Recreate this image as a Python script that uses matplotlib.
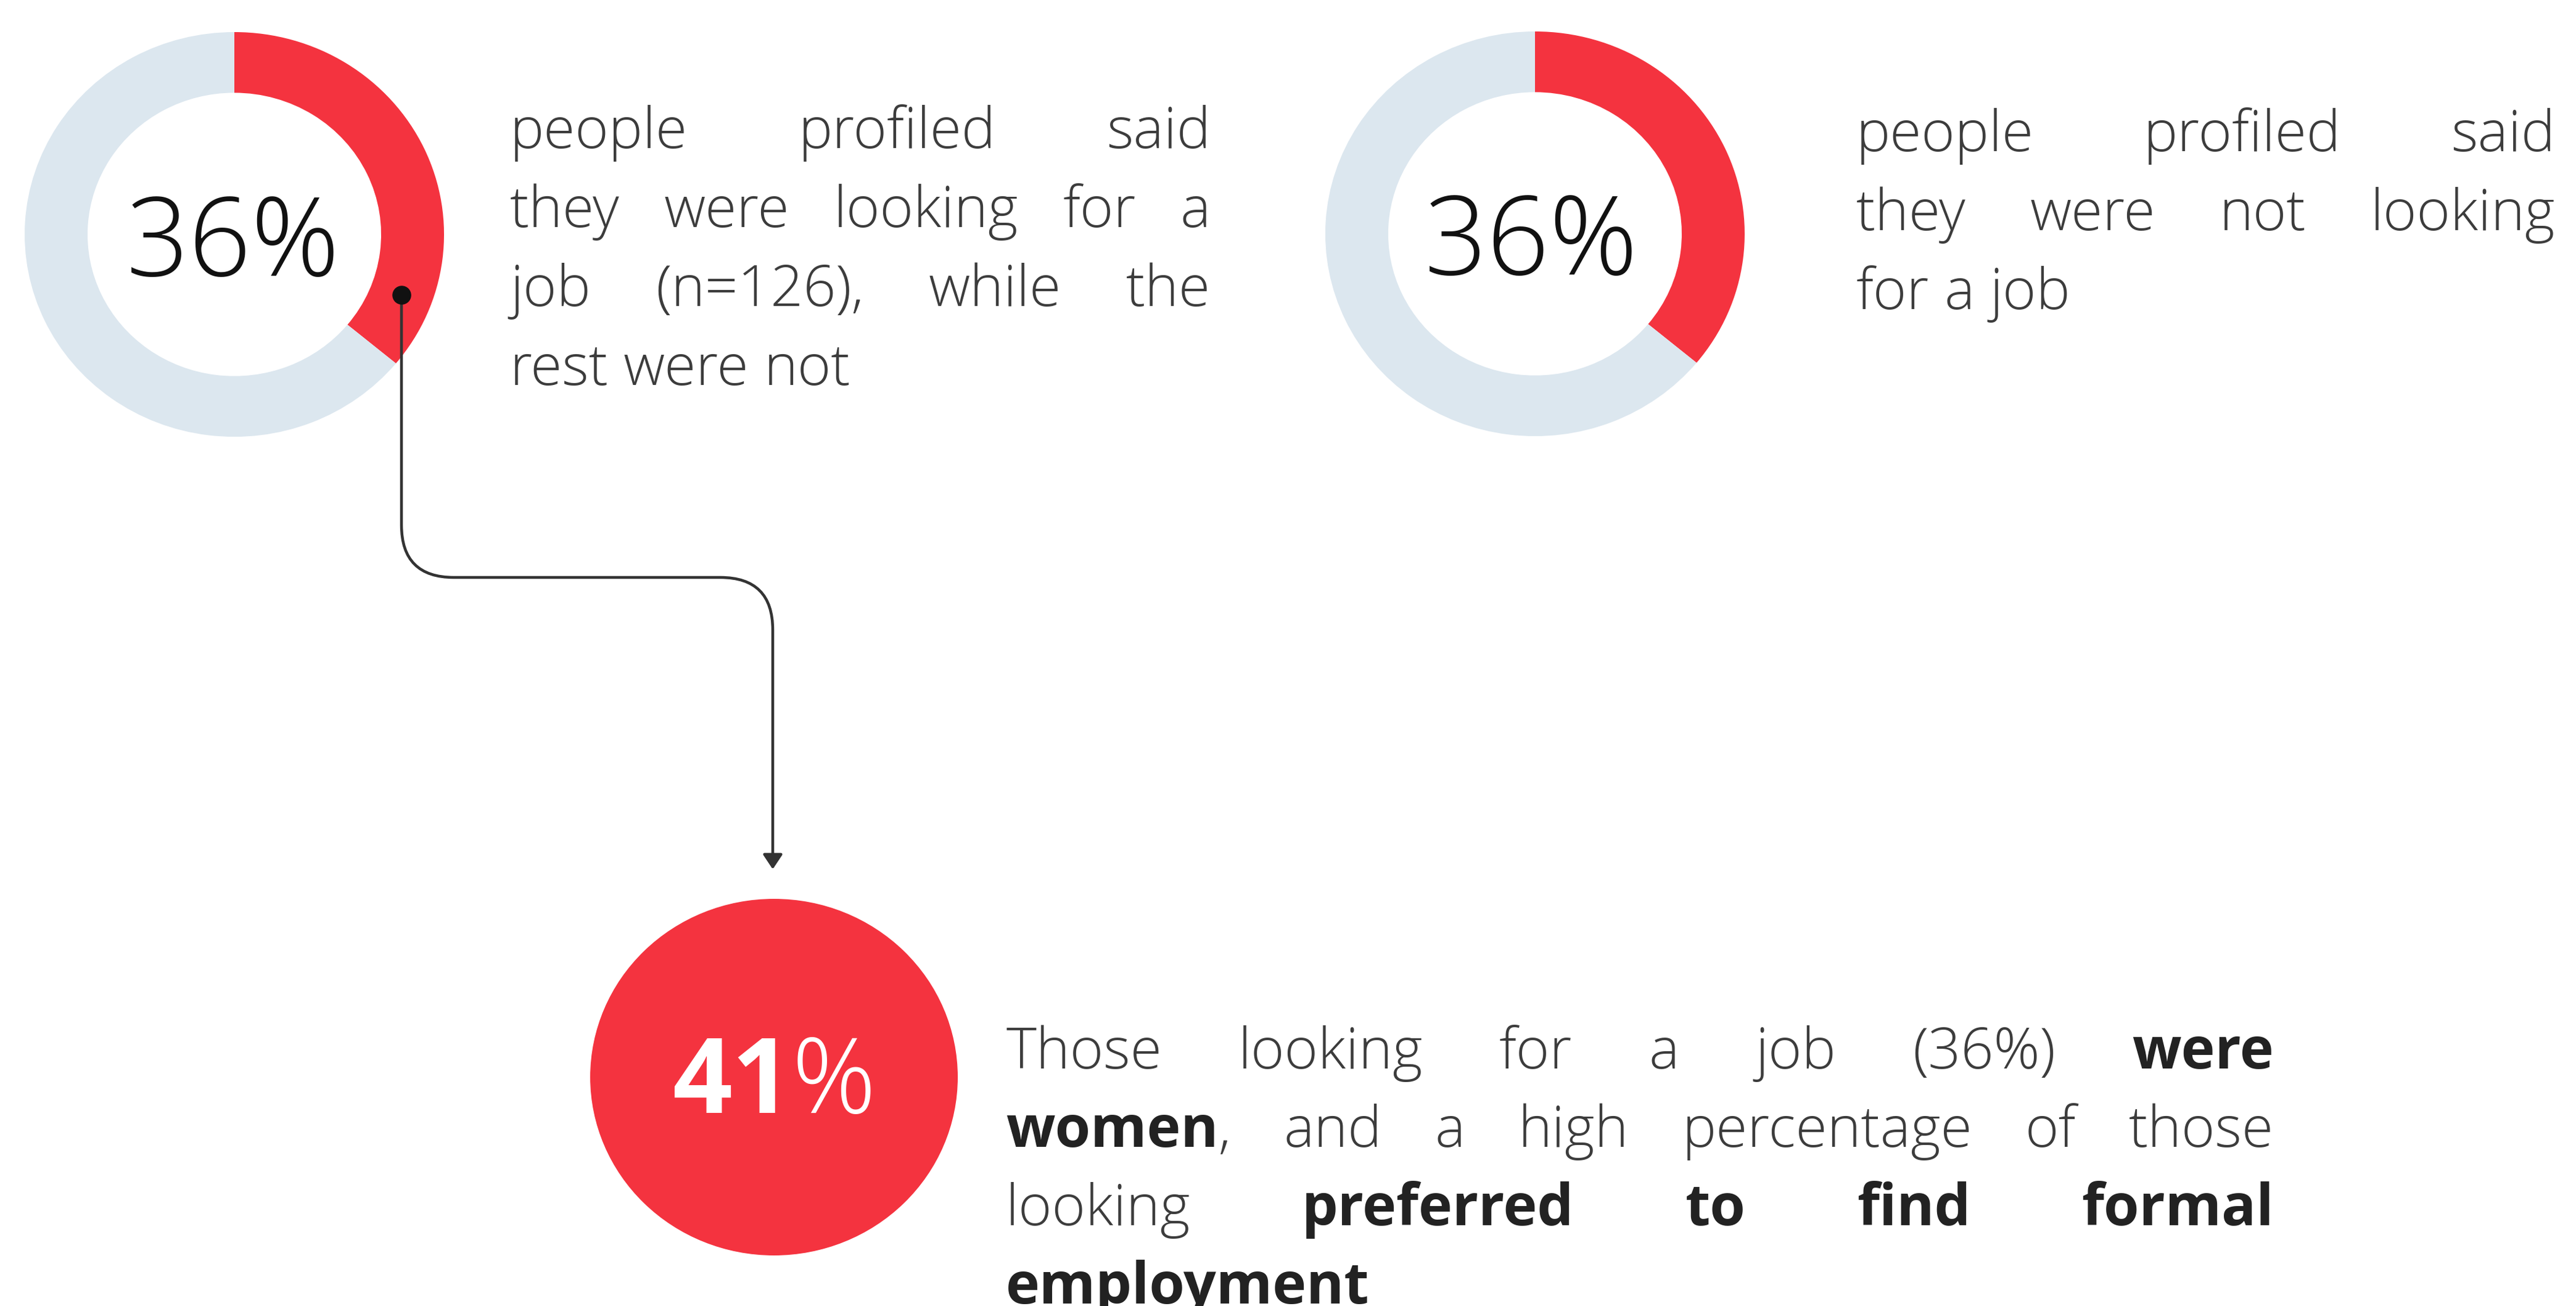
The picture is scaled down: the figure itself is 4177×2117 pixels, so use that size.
import re
import matplotlib
matplotlib.use('Agg')
import matplotlib.pyplot as plt
from matplotlib.path import Path
from matplotlib.patches import FancyArrowPatch, Ellipse

# share of people profiled (percent)
looking_pct = 36
not_looking_pct = 36
women_pct = 41

# captions, **word** is set in bold
looking_text = ["people profiled said",
                "they were looking for a",
                "job (n=126), while the",
                "rest were not"]
not_looking_text = ["people profiled said",
                    "they were not looking",
                    "for a job"]
women_text = ["Those looking for a job (36%) **were**",
              "**women**, and a high percentage of those",
              "looking **preferred** **to** **find** **formal**",
              "**employment**"]

W, H = 4177, 2117
RED = '#f4333f'
PALE = '#dce7ef'
FONT = 'Open Sans'
BODY = 67

fig = plt.figure(figsize=(W / 100, H / 100), dpi=100)
fig.patch.set_facecolor('white')


def donut(cx, cy, pct):
    rx, ry = 340, 328
    a = fig.add_axes([(cx - rx) / W, 1 - (cy + ry) / H, 2 * rx / W, 2 * ry / H])
    a.pie([pct, 100 - pct], colors=[RED, PALE], startangle=90, counterclock=False,
          radius=1, wedgeprops=dict(width=0.30, linewidth=0))
    a.set_xlim(-1, 1)
    a.set_ylim(-1, 1)
    a.set_aspect('auto')
    a.axis('off')
    return a


donut(380, 380, looking_pct)
donut(2489, 379, not_looking_pct)

# overlay in pixel units, y pointing down
ax = fig.add_axes([0, 0, 1, 1])
ax.set_xlim(0, W)
ax.set_ylim(H, 0)
ax.axis('off')
ax.patch.set_alpha(0)

renderer = fig.canvas.get_renderer()


def width_of(t):
    return t.get_window_extent(renderer).width


def word(y, s, size):
    # a word may mix bold and regular parts, e.g. "**women**,"
    parts = [p for p in re.split(r'(\*\*[^*]+\*\*)', s) if p]
    out = []
    for p in parts:
        bold = p.startswith('**')
        t = ax.text(0, y, p.strip('*'), fontsize=size, family=FONT,
                    weight='bold' if bold else 'light',
                    color='#222222' if bold else '#3c3c3c',
                    ha='left', va='baseline')
        out.append((t, width_of(t)))
    return out


def text_block(lines, x0, x1, y0, dy, size):
    sp = ax.text(0, 0, 'n n', fontsize=size, family=FONT, weight='light')
    nn = ax.text(0, 0, 'nn', fontsize=size, family=FONT, weight='light')
    space = width_of(sp) - width_of(nn)
    sp.remove()
    nn.remove()
    for i, line in enumerate(lines):
        y = y0 + i * dy
        words = [word(y, w, size) for w in line.split(' ')]
        widths = [sum(w for _, w in parts) for parts in words]
        if i < len(lines) - 1 and len(words) > 1:
            gap = (x1 - x0 - sum(widths)) / (len(words) - 1)
        else:
            gap = space
        x = x0
        for parts, w in zip(words, widths):
            px = x
            for t, pw in parts:
                t.set_x(px)
                px += pw
            x += w + gap


text_block(looking_text, 827, 1963, 240, 128, BODY)
text_block(not_looking_text, 3010, 4143, 245, 128, BODY)
text_block(women_text, 1631, 3687, 1732, 127, BODY)

# percentages inside the donuts
ax.text(378, 447, f'{looking_pct}%', fontsize=128, family=FONT, weight='light',
        color='#111111', ha='center', va='baseline')
ax.text(2483, 445, f'{not_looking_pct}%', fontsize=128, family=FONT, weight='light',
        color='#111111', ha='center', va='baseline')

# solid circle for the women share
ax.add_patch(Ellipse((1255, 1746), 596, 578, color=RED, lw=0))
num = ax.text(0, 1804, str(women_pct), fontsize=122, family=FONT, weight='bold',
              color='white', ha='left', va='baseline')
pc = ax.text(0, 1804, '%', fontsize=122, family=FONT, weight='light',
             color='white', ha='left', va='baseline')
wn, wp = width_of(num), width_of(pc)
num.set_x(1255 - (wn + wp) / 2)
pc.set_x(1255 - (wn + wp) / 2 + wn)

# connector from the first donut down to the circle
xa, xb, yh, r = 651, 1253, 936, 85
verts = [(xa, 478), (xa, yh - r), (xa, yh), (xa + r, yh), (xb - r, yh),
         (xb, yh), (xb, yh + r), (xb, 1409)]
codes = [Path.MOVETO, Path.LINETO, Path.CURVE3, Path.CURVE3, Path.LINETO,
         Path.CURVE3, Path.CURVE3, Path.LINETO]
arrow = FancyArrowPatch(path=Path(verts, codes), arrowstyle='-|>,head_length=0.45,head_width=0.3',
                        mutation_scale=32, lw=3.3, color='#333333', shrinkA=0, shrinkB=0)
ax.add_patch(arrow)
ax.plot(xa, 478, 'o', ms=21, color='#111111')

fig.savefig('out.png', dpi=100, facecolor='white')
